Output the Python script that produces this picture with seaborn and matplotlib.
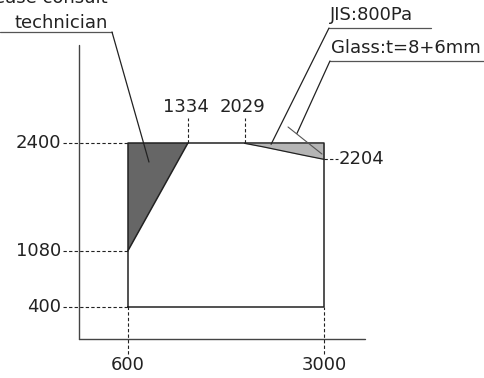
import numpy as np
import pandas as pd
import seaborn as sns
import matplotlib.pyplot as plt

# Window frame (mm)
frame_x = [600, 600, 3000, 3000, 600]
frame_y = [400, 2400, 2400, 400, 400]

# Zone where a technician should be consulted
dark_x = [600, 600, 1334]
dark_y = [1080, 2400, 2400]

# JIS 800Pa limit curve on the upper right
curve_x = [2029, 2250, 2500, 2750, 3000]
curve_y = [2400, 2358, 2306, 2254, 2204]

# Tick values
x_ticks = [600, 3000]
y_ticks = [400, 1080, 2400]
top_ticks = [1334, 2029]
right_tick = 2204

# Callouts: label, underline start/end, leader end (data units)
callouts = [
    ('JIS:800Pa', (3061, 4308), 3811, (2353, 2388)),
    ('Glass:t=8+6mm', (3073, 4950), 3408, (2670, 2523)),
]
glass_line_x = [2560, 2975]
glass_line_y = [2600, 2269]
tech_lines = ['Please consult', 'technician']
tech_underline = (-961, 408, 3763)
tech_leader = (860, 2171)

sns.set_style('white')
plt.rcParams['font.family'] = ['DejaVu Sans']

ink = '#222222'
fs = 13

fig = plt.figure(figsize=(4.85, 3.78), dpi=100)
ax = fig.add_axes([0, 0, 1, 1])
ax.set_xlim(-961, 4968)
ax.set_ylim(-472, 4154)
ax.axis('off')

# axes lines
ax.plot([0, 0], [0, 3600], color='#444444', lw=1.0)
ax.plot([0, 3500], [0, 0], color='#444444', lw=1.0)

# filled zones
ax.fill(dark_x, dark_y, color='#666666', lw=0)
cx = np.array(curve_x)
cy = np.array(curve_y)
ax.fill_between(cx, cy, 2400, color='#b5b5b5', lw=0)

# outlines
frame = pd.DataFrame({'x': frame_x, 'y': frame_y})
sns.lineplot(data=frame, x='x', y='y', sort=False, estimator=None,
             color=ink, lw=1.1, ax=ax)
ax.plot([dark_x[0], dark_x[2]], [dark_y[0], dark_y[2]], color=ink, lw=1.1)
curve = pd.DataFrame({'x': curve_x, 'y': curve_y})
sns.lineplot(data=curve, x='x', y='y', sort=False, estimator=None,
             color=ink, lw=0.9, ax=ax)

# dashed guides and labels
dash = dict(color=ink, lw=0.8, ls=(0, (3, 2)))
for v in y_ticks:
    ax.plot([-190, 600], [v, v], **dash)
    ax.text(-215, v, str(v), ha='right', va='center', fontsize=fs, color=ink)
for v in x_ticks:
    ax.plot([v, v], [-179, 400], **dash)
    ax.text(v, -307, str(v), ha='center', va='center', fontsize=fs, color=ink)
for v in top_ticks:
    ax.plot([v, v], [2400, 2710], **dash)
    ax.text(v - 25, 2845, str(v), ha='center', va='center', fontsize=fs, color=ink)
ax.plot([3000, 3171], [right_tick, right_tick], **dash)
ax.text(3181, right_tick, str(right_tick), ha='left', va='center',
        fontsize=fs, color=ink)

# callouts
ax.plot(glass_line_x, glass_line_y, color='#555555', lw=0.8)
for label, (u0, u1), uy, (lx, ly) in callouts:
    ax.plot([u0, u1], [uy, uy], color='#555555', lw=0.9)
    ax.plot([u0, lx], [uy, ly], color=ink, lw=0.9)
    ax.text(u0 + 15, uy + 50, label, ha='left', va='bottom',
            fontsize=fs, color=ink)

# top-left note, first line runs off the top edge as in the source
u0, u1, uy = tech_underline
ax.plot([u0, u1], [uy, uy], color='#555555', lw=0.9)
ax.plot([u1, tech_leader[0]], [uy, tech_leader[1]], color=ink, lw=0.9)
ax.text(360, uy + 50, tech_lines[1], ha='right', va='baseline',
        fontsize=fs, color=ink)
ax.text(360, 4112, tech_lines[0], ha='right', va='baseline',
        fontsize=fs, color=ink)

fig.savefig('out.png', dpi=100)
